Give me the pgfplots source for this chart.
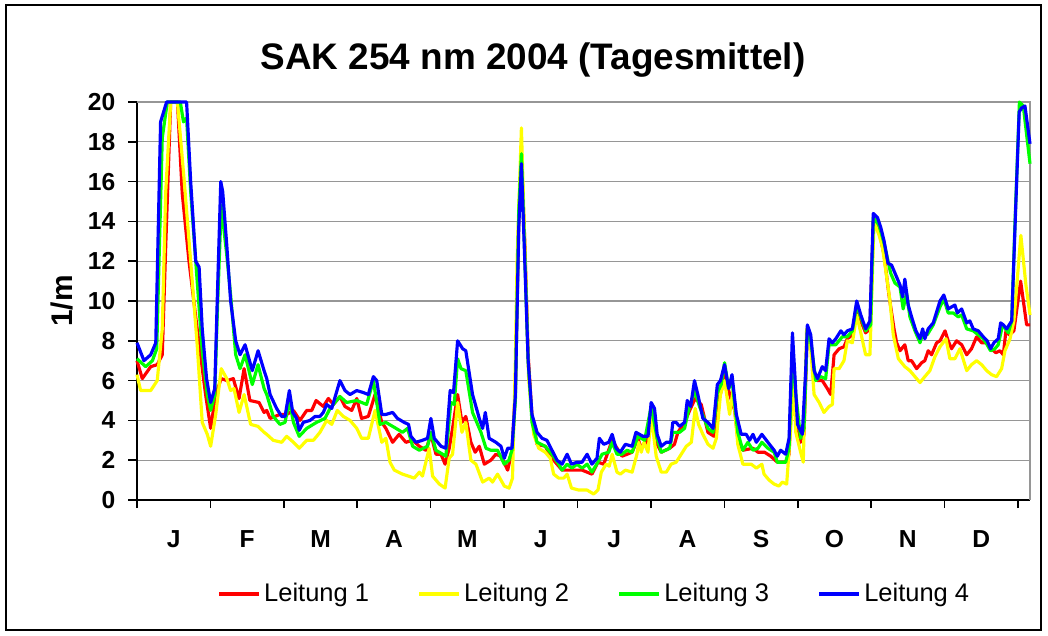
\documentclass[border=0pt]{standalone}
\usepackage{fontspec}
\setmainfont{Liberation Sans}
\usepackage{pgfplots}
\pgfplotsset{compat=1.18}

\definecolor{lred}{RGB}{255,0,0}
\definecolor{lyellow}{RGB}{255,255,0}
\definecolor{lgreen}{RGB}{0,255,0}
\definecolor{lblue}{RGB}{0,0,255}
\definecolor{gridgray}{RGB}{150,150,150}

\begin{document}
\begin{tikzpicture}
\useasboundingbox (0,0) rectangle (20.96,12.7);
\draw[line width=1.3pt] (0.12,0.1) rectangle (20.82,12.6);
\node[font=\fontsize{21}{25}\selectfont\bfseries] at (10.66,11.5) {SAK 254 nm 2004 (Tagesmittel)};

\begin{axis}[
  at={(2.74cm,2.7cm)}, anchor=south west,
  scale only axis, width=17.86cm, height=7.96cm,
  xmin=0, xmax=371, ymin=0, ymax=20,
  clip=false,
  axis x line*=bottom, axis y line*=left,
  axis line style={black, line width=1.1pt},
  ytick={0,2,...,20},
  xtick={15.25,45.75,76.25,106.75,137.25,167.75,198.25,228.75,259.25,289.75,320.25,350.75},
  xticklabels={J,F,M,A,M,J,J,A,S,O,N,D},
  minor xtick={0,30.5,61,91.5,122,152.5,183,213.5,244,274.5,305,335.5,366},
  major x tick style={draw=none},
  tick align=outside,
  major tick length=0.18cm, minor tick length=0.16cm,
  tick style={black, line width=0.9pt},
  ymajorgrids, grid style={gridgray, line width=0.7pt},
  /pgf/number format/assume math mode=true,
  ticklabel style={font=\fontsize{14}{16}\selectfont\bfseries},
  xticklabel style={anchor=center, yshift=-0.6cm},
  yticklabel style={xshift=-0.13cm},
  ylabel={1/m},
  ylabel style={font=\fontsize{17}{19}\selectfont\bfseries, at={(axis description cs:-0.084,0.5)}, anchor=center},
  legend columns=4,
  legend style={at={(0.513,-0.236)}, anchor=center, draw=none, fill=none,
    font=\fontsize{14.5}{16}\selectfont,
    /tikz/every even column/.append style={column sep=0.9cm}},
  legend image code/.code={\draw[#1] (0cm,0cm) -- (0.8cm,0cm);},
  every axis plot/.append style={line width=1.8pt, line join=round},
]
\draw[gridgray, line width=0.8pt] (rel axis cs:0,1) -- (rel axis cs:1,1) -- (rel axis cs:1,0);

\addplot[lred] coordinates {
(0,7.0)(2.2,6.1)(5.7,6.7)(8.4,6.8)(10.5,7.3)(12.0,13.0)(14.0,20)(16.8,20)(18.8,15.4)(21.6,12.0)(25.0,8.6)(28.5,5.3)(30.6,3.6)(32.7,5.3)(35.0,6.1)(37.5,6.0)(40.0,6.1)(42.4,5.1)(44.5,6.6)(46.9,5.0)(50.7,4.9)(52.8,4.4)(53.9,4.5)(55.3,4.1)(59.4,4.3)(62.2,4.3)(65.0,4.5)(67.7,4.0)(70.5,4.5)(72.6,4.5)(74.4,5.0)(77.4,4.7)(79.5,5.1)(81.6,4.8)(84.3,5.2)(86.4,4.7)(89.2,4.5)(91.3,5.1)(93.3,4.1)(96.1,4.2)(98.9,5.3)(101.7,3.9)(103.4,3.6)(106.2,2.9)(108.9,3.3)(111.7,2.9)(114.5,3.0)(117.3,2.7)(120.0,2.5)(122.1,3.3)(124.2,2.3)(126.3,2.3)(128.0,1.8)(129.7,2.6)(131.1,3.6)(133.2,5.3)(135.0,3.9)(136.6,4.2)(138.7,2.9)(140.5,2.4)(142.2,2.7)(144.3,1.8)(147.0,2.0)(149.1,2.3)(151.2,2.2)(154.0,1.5)(155.8,2.5)(157.2,5.5)(158.6,14.0)(159.7,17.2)(161.1,13.0)(162.5,7.3)(164.1,4.2)(166.2,2.8)(169.6,2.7)(172.4,2.1)(176.6,1.5)(180.7,1.5)(184.9,1.5)(189.0,1.3)(191.5,1.9)(193.9,1.8)(197.4,3.0)(201.5,2.2)(205.7,2.4)(208.1,3.1)(209.5,2.6)(211.6,2.9)(213.6,4.5)(215.7,2.9)(217.8,2.4)(221.3,2.6)(223.3,2.8)(224.7,3.4)(227.5,3.9)(229.6,4.5)(231.9,5.1)(234.4,4.8)(237.2,3.4)(239.7,3.2)(241.3,4.9)(243.0,5.6)(244.1,6.5)(246.2,5.3)(248.3,4.5)(249.6,3.1)(251.7,2.5)(255.9,2.6)(258.0,2.4)(260.7,2.4)(263.3,2.2)(266.0,1.9)(269.5,1.9)(270.9,2.3)(272.3,6.1)(273.7,4.3)(275.7,2.9)(277.1,3.3)(278.5,8.6)(279.9,8.0)(281.3,6.3)(282.7,6.0)(284.7,6.0)(286.8,5.6)(288.2,5.3)(289.6,7.3)(291.7,7.6)(293.7,7.7)(295.1,8.1)(297.2,8.3)(299.0,9.7)(300.7,9.0)(302.7,8.4)(304.5,8.6)(305.9,14.0)(308.3,13.5)(310.4,12.3)(312.4,10.3)(314.5,8.6)(315.6,7.9)(317.0,7.5)(319.0,7.8)(320.4,7.0)(321.8,7.0)(323.9,6.6)(326.0,6.9)(327.3,7.0)(328.7,7.5)(330.1,7.3)(332.2,7.9)(333.6,8.0)(335.7,8.5)(337.0,8.0)(338.4,7.6)(340.5,8.0)(342.6,7.8)(344.7,7.3)(346.7,7.6)(348.8,8.2)(350.9,7.9)(353.0,7.9)(355.0,7.6)(356.8,7.4)(358.5,7.5)(359.9,7.3)(361.0,8.5)(362.4,8.3)(364.3,8.5)(367.1,11.0)(369.6,8.8)(371,8.8)
};
\addlegendentry{Leitung 1}

\addplot[lyellow] coordinates {
(0,6.3)(1.5,5.5)(5.7,5.5)(8.4,6.0)(10.5,8.6)(11.9,15.4)(14.0,20)(16.8,20)(19.5,16.2)(22.3,12.0)(25.0,7.8)(27.1,3.9)(29.2,3.3)(30.6,2.7)(32.7,4.3)(35.0,6.6)(37.3,6.1)(38.9,5.5)(40.3,5.6)(42.4,4.4)(44.5,5.3)(47.2,3.8)(50.3,3.7)(52.8,3.4)(53.9,3.3)(56.6,3.0)(60.1,2.9)(62.2,3.2)(65.0,2.9)(67.4,2.6)(70.5,3.0)(73.3,3.0)(76.0,3.4)(78.8,4.0)(80.9,3.8)(83.2,4.5)(85.7,4.2)(88.5,4.0)(91.3,3.6)(93.3,3.1)(96.1,3.1)(98.9,4.5)(101.7,2.9)(103.4,3.1)(105.1,1.9)(106.9,1.5)(110.3,1.3)(115.2,1.1)(117.3,1.4)(118.6,1.2)(121.4,2.6)(122.8,1.2)(125.6,0.8)(128.0,0.6)(129.7,2.1)(131.1,2.3)(133.2,4.9)(135.0,3.4)(136.6,3.9)(138.7,2.0)(140.8,1.8)(143.6,0.9)(146.3,1.1)(147.7,0.9)(149.8,1.3)(152.6,0.7)(154.6,0.6)(156.0,1.1)(157.2,7.0)(157.9,12.0)(159.7,18.7)(161.1,12.8)(162.7,6.1)(164.8,3.3)(166.9,2.6)(169.6,2.4)(171.7,2.1)(173.1,1.3)(175.2,1.1)(177.3,1.1)(178.7,1.3)(180.5,0.6)(183.5,0.5)(187.0,0.5)(189.7,0.3)(191.5,0.5)(192.9,1.4)(194.9,1.8)(196.2,1.7)(197.4,2.3)(199.4,1.4)(200.8,1.3)(202.9,1.5)(205.7,1.4)(207.7,2.3)(208.4,2.9)(209.5,2.4)(210.6,2.9)(212.3,2.4)(213.6,4.3)(215.7,2.2)(217.8,1.4)(219.9,1.4)(221.9,1.8)(224.0,1.9)(226.1,2.3)(228.2,2.7)(230.3,2.9)(231.9,4.6)(233.3,3.8)(235.1,3.3)(237.2,2.8)(239.3,2.6)(240.7,3.1)(242.4,5.3)(244.1,6.0)(246.2,4.3)(247.6,5.5)(249.6,2.8)(251.7,1.8)(255.2,1.8)(257.3,1.6)(259.6,1.8)(260.5,1.3)(262.6,1.0)(264.7,0.8)(266.7,0.7)(268.1,0.9)(269.9,0.8)(271.6,3.6)(272.7,6.1)(273.7,3.4)(275.7,2.4)(276.8,1.9)(278.2,8.6)(279.9,7.6)(281.3,5.3)(283.4,4.9)(285.4,4.4)(287.5,4.7)(288.9,4.8)(289.6,6.6)(291.7,6.6)(293.7,7.0)(295.1,8.0)(297.2,7.9)(299.0,9.3)(300.7,8.4)(302.7,7.3)(304.5,7.3)(306.2,14.0)(308.3,13.3)(309.7,12.7)(311.7,11.0)(312.8,10.0)(314.2,8.3)(316.3,7.1)(319.0,6.7)(321.1,6.5)(323.2,6.2)(325.3,5.9)(327.3,6.2)(329.4,6.5)(331.5,7.2)(333.6,7.7)(336.1,8.1)(337.7,7.1)(339.8,7.1)(341.9,7.6)(344.7,6.5)(346.7,6.8)(348.8,7.0)(350.9,6.8)(353.0,6.5)(355.0,6.3)(357.1,6.2)(359.2,6.6)(360.6,7.5)(362.7,8.1)(364.3,9.0)(367.2,13.3)(369.3,10.8)(371,9.3)
};
\addlegendentry{Leitung 2}

\addplot[lgreen] coordinates {
(0,7.1)(3.6,6.7)(6.4,7.0)(8.2,7.6)(10.5,18.2)(12.6,20)(18.0,20)(19.3,19.0)(20.6,19.2)(22.3,15.5)(25.0,11.0)(27.1,7.5)(29.2,5.3)(30.6,4.5)(32.3,5.3)(33.4,9.5)(35.0,14.8)(37.3,12.3)(38.9,10.3)(41.0,7.3)(42.8,6.6)(44.9,7.3)(47.9,5.8)(50.3,6.8)(52.8,5.6)(53.9,5.3)(56.6,4.2)(59.4,3.8)(61.5,3.9)(63.3,5.0)(65.0,3.9)(67.4,3.2)(70.5,3.6)(74.6,3.9)(78.1,4.1)(80.2,4.6)(84.3,5.2)(87.1,4.9)(91.3,5.0)(95.4,4.8)(98.2,6.0)(101.0,3.8)(103.4,3.9)(107.6,3.6)(110.3,3.4)(112.4,3.6)(114.5,2.7)(117.3,2.5)(120.7,2.7)(122.1,3.4)(124.2,2.5)(127.0,2.3)(128.3,2.2)(130.4,4.9)(131.8,4.8)(133.2,7.1)(134.6,6.6)(136.6,6.5)(139.4,4.4)(142.9,3.4)(145.0,2.6)(147.0,2.5)(149.8,2.5)(152.6,1.8)(154.5,2.0)(155.8,2.5)(157.2,5.0)(158.6,14.5)(159.7,17.4)(161.1,12.3)(162.5,7.0)(164.1,3.9)(166.2,2.9)(169.6,2.7)(172.4,2.3)(175.2,1.8)(176.6,1.5)(178.7,1.8)(180.7,1.6)(182.8,1.8)(184.9,1.6)(187.0,1.8)(189.0,1.4)(191.5,1.9)(193.2,2.3)(196.0,2.4)(197.4,2.9)(199.4,2.3)(201.5,2.3)(203.6,2.5)(205.7,2.4)(208.1,3.2)(210.9,3.0)(213.6,4.7)(216.1,3.1)(217.8,2.4)(221.3,2.6)(222.6,3.4)(225.4,3.4)(227.5,3.6)(228.9,4.4)(231.6,5.5)(233.7,4.7)(237.2,3.6)(239.3,3.4)(241.1,5.4)(242.7,5.8)(244.1,6.9)(245.8,5.6)(247.2,6.0)(249.6,3.4)(251.7,2.5)(253.8,2.9)(255.9,2.5)(258.0,2.6)(259.6,2.9)(262.1,2.6)(264.7,2.4)(266.0,1.9)(269.5,1.9)(270.9,2.6)(272.3,7.3)(273.7,5.3)(275.7,3.1)(277.1,3.6)(278.5,8.6)(279.9,8.0)(282.0,6.0)(284.0,6.2)(286.1,6.1)(287.5,7.8)(290.3,7.8)(293.0,8.2)(295.1,8.2)(297.2,8.5)(299.0,9.8)(300.7,9.2)(302.7,8.5)(304.8,8.8)(305.9,14.2)(308.3,13.8)(310.6,12.8)(313.1,11.4)(314.9,10.9)(317.0,10.7)(318.3,9.6)(319.7,10.4)(321.1,9.2)(323.2,8.5)(325.3,7.9)(326.6,8.4)(328.3,8.3)(330.8,8.8)(333.6,9.7)(335.2,10.1)(337.0,9.4)(339.1,9.4)(341.2,9.2)(342.6,9.3)(344.7,8.6)(347.4,8.5)(349.5,8.3)(351.6,8.1)(353.2,7.8)(354.6,7.5)(356.4,7.6)(357.8,7.8)(359.6,8.8)(362.0,8.4)(363.4,9.0)(364.7,13.7)(366.6,20)(368.2,19.8)(371,16.9)
};
\addlegendentry{Leitung 3}

\addplot[lblue] coordinates {
(0,7.9)(2.9,7.0)(5.7,7.3)(7.8,7.9)(9.8,19.0)(12.3,20)(20.6,20)(22.3,16.0)(24.4,12.0)(25.8,11.7)(27.1,8.6)(28.9,6.1)(30.6,4.9)(32.3,5.6)(33.4,10.3)(34.8,16.0)(35.6,15.5)(37.3,12.8)(38.9,10.0)(41.0,8.0)(42.8,7.3)(44.9,7.8)(47.9,6.5)(50.3,7.5)(52.8,6.5)(53.9,6.1)(55.3,5.3)(58.0,4.6)(60.1,4.2)(61.5,4.2)(63.3,5.5)(64.7,4.4)(66.3,4.1)(67.4,3.5)(69.1,3.9)(71.9,4.0)(74.0,4.2)(76.0,4.2)(77.4,4.4)(78.8,4.8)(80.9,4.6)(84.3,6.0)(86.4,5.5)(88.5,5.3)(91.3,5.5)(94.0,5.4)(96.1,5.3)(98.2,6.2)(99.6,6.0)(101.7,4.3)(103.4,4.3)(106.2,4.4)(108.2,4.1)(111.0,3.9)(112.8,3.8)(113.8,3.2)(115.9,2.9)(118.6,3.0)(120.7,3.1)(122.1,4.1)(123.5,3.1)(126.3,2.7)(128.3,2.6)(130.1,5.5)(131.5,5.4)(133.2,8.0)(135.3,7.6)(136.6,7.5)(139.4,5.3)(142.2,4.1)(143.6,3.6)(144.7,4.4)(146.3,3.1)(149.1,2.9)(151.2,2.7)(152.6,2.1)(154.0,2.6)(155.8,2.6)(157.2,5.3)(158.6,13.7)(159.7,16.9)(161.1,12.0)(162.5,7.0)(164.1,4.3)(166.2,3.4)(168.3,3.1)(170.3,3.0)(172.4,2.5)(174.5,2.0)(176.6,1.8)(178.7,2.3)(180.5,1.8)(182.8,1.9)(184.9,1.9)(187.0,2.3)(189.0,1.8)(191.1,2.1)(192.1,3.1)(193.9,2.8)(196.0,2.9)(197.4,3.3)(199.0,2.6)(200.8,2.4)(202.9,2.8)(205.7,2.7)(207.3,3.4)(210.2,3.2)(212.3,3.2)(213.6,4.9)(215.0,4.6)(216.1,3.3)(217.8,2.7)(219.9,2.9)(221.7,2.9)(222.6,3.9)(224.0,3.9)(225.4,3.7)(227.5,3.9)(228.6,5.0)(230.0,4.7)(231.6,6.0)(233.0,5.3)(235.1,4.1)(237.2,3.9)(239.3,3.6)(241.1,5.8)(242.4,6.0)(244.1,6.8)(245.8,5.6)(247.2,6.3)(249.0,4.3)(251.0,3.3)(253.1,3.3)(254.5,3.0)(255.9,3.3)(257.3,2.9)(259.6,3.3)(262.1,2.9)(264.7,2.5)(266.0,2.2)(267.4,2.5)(269.5,2.3)(270.9,3.1)(272.3,8.4)(273.4,6.1)(274.4,3.8)(276.4,3.3)(277.8,6.5)(278.5,8.8)(279.9,8.3)(281.3,6.5)(282.7,6.1)(284.7,6.7)(286.1,6.5)(287.5,8.1)(288.9,7.9)(290.3,8.1)(292.4,8.5)(293.7,8.3)(295.1,8.5)(297.2,8.6)(299.0,10.0)(300.7,9.3)(302.7,8.6)(304.5,9.0)(305.9,14.4)(307.6,14.2)(309.0,13.7)(310.4,13.0)(312.0,11.9)(313.5,11.8)(314.9,11.4)(317.0,10.8)(318.1,10.2)(319.0,11.1)(320.4,9.8)(321.8,9.2)(323.6,8.5)(325.3,8.1)(326.4,8.6)(327.3,8.1)(328.7,8.6)(330.8,8.9)(333.6,10.0)(335.2,10.3)(337.0,9.6)(338.4,9.7)(339.8,9.8)(340.8,9.4)(342.6,9.6)(344.7,8.9)(346.0,9.0)(347.4,8.6)(349.5,8.5)(351.6,8.2)(353.2,8.0)(354.6,7.6)(356.0,7.9)(357.8,8.1)(358.8,8.9)(359.9,8.8)(361.3,8.6)(363.4,9.0)(365.0,14.5)(366.5,19.5)(367.5,19.7)(368.9,19.8)(371,17.9)
};
\addlegendentry{Leitung 4}
\end{axis}
\end{tikzpicture}
\end{document}
